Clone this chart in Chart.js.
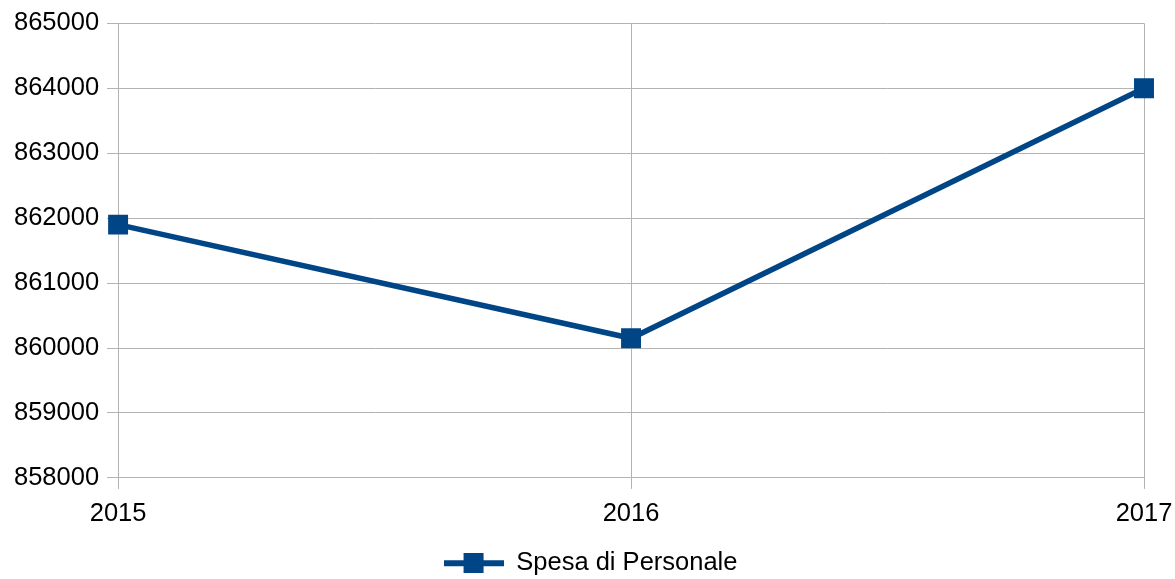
<!DOCTYPE html>
<html>
<head>
<meta charset="utf-8">
<script src="https://cdn.jsdelivr.net/npm/chart.js@4"></script>
<style>
  html, body { margin: 0; padding: 0; background: #fff; }
  #wrap { width: 1175px; height: 579px; }
</style>
</head>
<body>
<div id="wrap"><canvas id="myChart"></canvas></div>
<script>
// data
const years = ["2015", "2016", "2017"];
const spesaPersonale = [861900, 860150, 864000];
const seriesName = "Spesa di Personale";
const yMin = 858000, yMax = 865000, yStep = 1000;

const blue = "#004586";
const gridColor = "#b3b3b3";

// legend symbol: line with square marker
const sym = document.createElement("canvas");
sym.width = 60; sym.height = 20;
const sctx = sym.getContext("2d");
sctx.fillStyle = blue;
sctx.fillRect(0, 7, 60, 6);
sctx.fillRect(20, 0, 20, 20);

Chart.defaults.font.family = "'Liberation Sans', Arial, sans-serif";
Chart.defaults.color = "#000";

new Chart(document.getElementById("myChart").getContext('2d'), {
  type: 'line',
  data: {
    labels: years,
    datasets: [{
      label: seriesName,
      data: spesaPersonale,
      borderColor: blue,
      backgroundColor: blue,
      borderWidth: 5.5,
      pointStyle: 'rect',
      pointRadius: 14.1,
      pointHoverRadius: 14.1,
      pointBackgroundColor: blue,
      pointBorderColor: blue,
      pointBorderWidth: 0,
      tension: 0,
      fill: false
    }]
  },
  options: {
    responsive: true,
    maintainAspectRatio: false,
    animation: false,
    layout: { padding: { left: 6, right: 0, top: 8, bottom: -7 } },
    plugins: {
      tooltip: { enabled: false },
      legend: {
        display: true,
        position: 'bottom',
        labels: {
          usePointStyle: true,
          pointStyleWidth: 60,
          padding: 4,
          font: { size: 25.5 },
          color: '#000',
          generateLabels: function (chart) {
            return chart.data.datasets.map(function (ds, i) {
              return {
                text: ds.label,
                pointStyle: sym,
                fillStyle: blue,
                strokeStyle: blue,
                lineWidth: 0,
                datasetIndex: i,
                hidden: false
              };
            });
          }
        }
      }
    },
    scales: {
      x: {
        offset: false,
        afterFit: function (scale) {
          scale.height += 8;
          scale.paddingRight = 31;
        },
        grid: {
          color: gridColor,
          lineWidth: 1,
          tickLength: 11,
          drawOnChartArea: true
        },
        border: { color: gridColor },
        ticks: {
          font: { size: 25.5 },
          color: '#000',
          padding: 9.5,
          maxRotation: 0
        }
      },
      y: {
        min: yMin,
        max: yMax,
        grid: {
          color: gridColor,
          lineWidth: 1,
          tickLength: 11
        },
        border: { color: gridColor },
        ticks: {
          stepSize: yStep,
          font: { size: 25.5 },
          color: '#000',
          padding: 8,
          callback: function (v) { return String(v); }
        }
      }
    }
  }
});
</script>
</body>
</html>
